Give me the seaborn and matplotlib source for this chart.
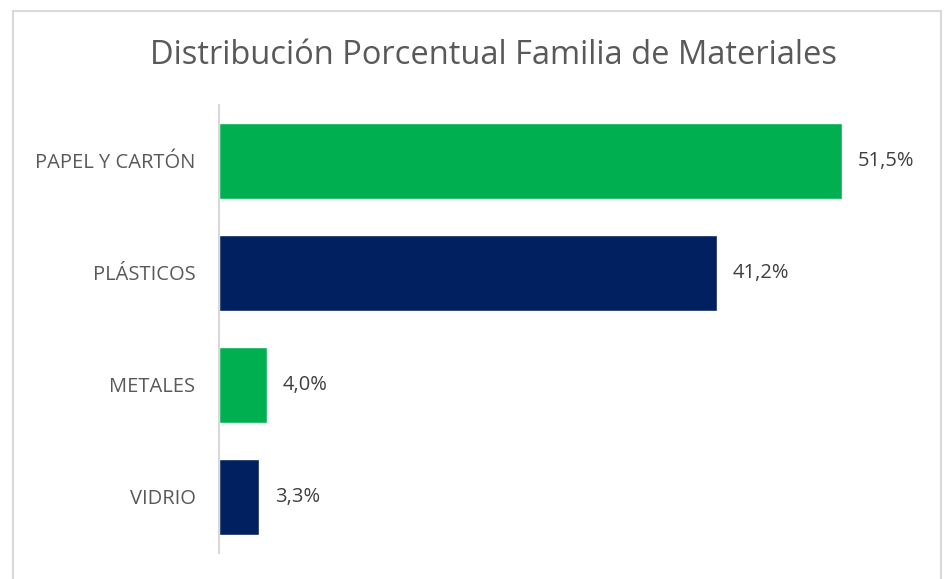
import matplotlib.pyplot as plt
import matplotlib.patches as mpatches
import seaborn as sns
import pandas as pd

categorias = ["PAPEL Y CARTÓN", "PLÁSTICOS", "METALES", "VIDRIO"]
porcentajes = [51.5, 41.2, 4.0, 3.3]
colores = ["#00B050", "#002060", "#00B050", "#002060"]

df = pd.DataFrame({"familia": categorias, "pct": porcentajes})

sns.set_style("white")
plt.rcParams["font.family"] = ["Open Sans", "DejaVu Sans"]

fig = plt.figure(figsize=(9.53, 5.79), dpi=100)
ax = fig.add_axes([219 / 953, 1 - 553 / 579, (900 - 219) / 953, (553 - 105) / 579])

sns.barplot(data=df, x="pct", y="familia", hue="familia", palette=colores,
            legend=False, width=0.67, saturation=1, ax=ax)

for i, v in enumerate(porcentajes):
    ax.text(v + 1.3, i, f"{v:.1f}%".replace(".", ","), va="center", ha="left",
            fontsize=14.5, color="#404040")

ax.set_xlim(0, 56.3)
ax.set_ylim(3.5, -0.5)
ax.set_xlabel("")
ax.set_ylabel("")
ax.set_xticks([])
ax.tick_params(axis="y", length=0, pad=17, labelsize=14.5, labelcolor="#595959")
for s in ["top", "right", "bottom"]:
    ax.spines[s].set_visible(False)
ax.spines["left"].set_color("#D9D9D9")
ax.spines["left"].set_linewidth(1.5)

fig.text(494 / 953, 1 - 55 / 579, "Distribución Porcentual Familia de Materiales",
         ha="center", va="center", fontsize=23.5, color="#595959")

marco = mpatches.Rectangle((13 / 953, -0.1), (941 - 13) / 953, 1.1 - 11 / 579,
                           transform=fig.transFigure, fill=False,
                           edgecolor="#D9D9D9", linewidth=1.5)
fig.patches.append(marco)

fig.savefig("out.png", dpi=100)
